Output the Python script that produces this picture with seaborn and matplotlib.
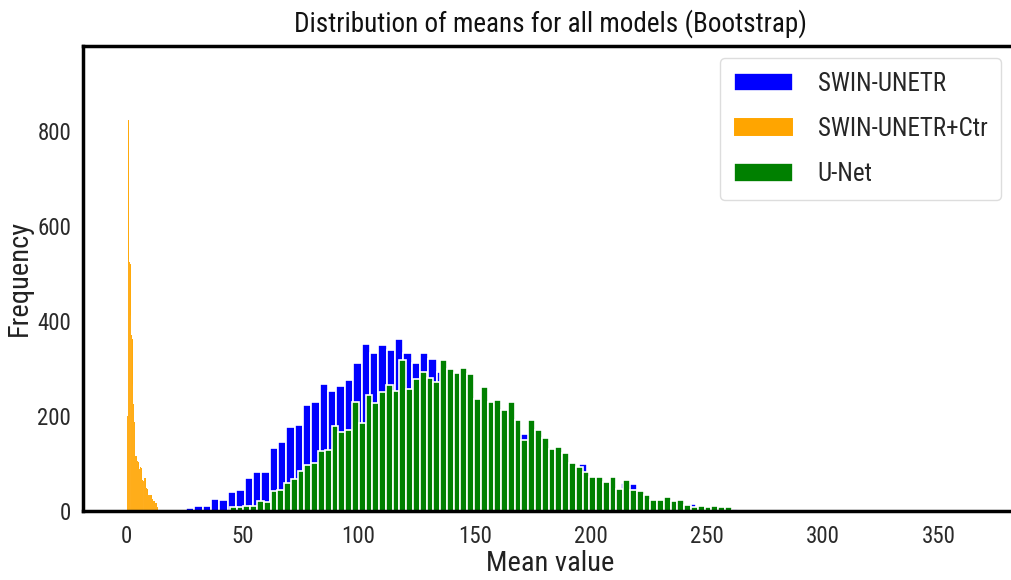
import numpy as np
import matplotlib
matplotlib.use("Agg")
import matplotlib.pyplot as plt
from matplotlib import font_manager
import seaborn as sns

# Bootstrap histogram counts per model (explicit bins)
models = ["SWIN-UNETR", "SWIN-UNETR+Ctr", "U-Net"]
colors = ["blue", "orange", "green"]

swin_start, swin_width = 25.7, 3.6
swin_counts = [6, 11, 11, 26, 23, 39, 44, 69, 82, 82, 133, 146, 176, 181, 222, 230,
               268, 253, 262, 275, 311, 352, 333, 349, 339, 361, 333, 311, 333, 319, 293,
               280, 270, 265, 225, 225, 215, 200, 200, 180,
               163, 160, 125, 125, 118, 100, 90, 98, 70, 60,
               58, 45, 58, 56, 33, 22, 21, 19, 18, 12,
               15, 8, 7, 6, 5, 5]

ctr_start, ctr_width = 0.4, 0.14
ctr_counts = [199, 205, 210, 823, 530, 528, 525, 522, 526, 520,
              412, 410, 405, 370, 367, 365, 362, 268, 262, 225,
              222, 220, 188, 185, 182, 116, 114, 112, 115, 113,
              108, 106, 107, 105, 104, 91, 90, 89, 92, 88,
              93, 92, 90, 91, 89, 66, 65, 64, 66, 63,
              65, 64, 70, 69, 68, 67, 69, 68, 49, 48,
              47, 48, 46, 35, 34, 33, 35, 34, 33, 34,
              35, 33, 34, 32, 33, 28, 27, 26, 27, 26,
              21, 20, 19, 20, 19, 17, 16, 16, 15, 16,
              15, 14, 10, 9, 8, 3, 2, 1, 1, 0]

unet_start, unet_width = 44.6, 2.92
unet_counts = [9, 8, 11, 11, 22, 19, 42, 44, 58, 68,
               85, 96, 102, 126, 129, 178, 166, 170, 230, 185,
               244, 228, 251, 266, 252, 318, 256, 277, 293, 279,
               272, 318, 298, 291, 300, 288, 235, 260, 229, 234,
               212, 229, 191, 150, 191, 171, 153, 131, 135, 123,
               102, 92, 82, 72, 72, 62, 72, 47, 65, 44,
               41, 34, 23, 23, 29, 21, 23, 13, 9, 11,
               8, 11, 8, 8, 2]

x_ticks = [0, 50, 100, 150, 200, 250, 300, 350]
y_ticks = [0, 200, 400, 600, 800]

sns.set_theme(style="white")


def pick_narrow_font():
    """Return (family, stretch) of an installed condensed sans face, if any."""
    preferred = ["Roboto Condensed", "Liberation Sans Narrow", "Open Sans Condensed",
                 "Noto Sans Condensed", "DejaVu Sans Condensed"]
    entries = font_manager.fontManager.ttflist
    names = {f.name for f in entries}
    for fam in preferred:
        if fam in names:
            return fam, "normal"
    for f in entries:
        st = str(f.stretch)
        if st in ("condensed", "semi-condensed", "extra-condensed") and f.style == "normal":
            return f.name, st
    return "DejaVu Sans", "normal"


narrow_family, narrow_stretch = pick_narrow_font()
plt.rcParams["font.family"] = [narrow_family, "DejaVu Sans"]
plt.rcParams["font.stretch"] = narrow_stretch

fig = plt.figure(figsize=(10.11, 5.8), dpi=100)
ax = fig.add_axes([0.082, 0.119, 0.925, 0.802])

series = [
    (swin_start, swin_width, swin_counts, 1.2),
    (ctr_start, ctr_width, ctr_counts, None),
    (unet_start, unet_width, unet_counts, 1.2),
]
for name, color, (start, width, counts, lw) in zip(models, colors, series):
    counts = np.asarray(counts, dtype=float)
    n = len(counts)
    lo, hi = start, start + width * n
    centers = lo + width * (np.arange(n) + 0.5)
    kws = {} if lw is None else {"linewidth": lw}
    sns.histplot(x=centers, weights=counts, bins=n, binrange=(lo, hi),
                 color=color, alpha=1, label=name, ax=ax, **kws)

ax.set_xlim(-18.7, 384)
ax.set_ylim(0, 979)
ax.set_xticks(x_ticks)
ax.set_yticks(y_ticks)
ax.tick_params(labelsize=16.5, colors="#2a2a2a")
ax.tick_params(axis="x", pad=4)
ax.tick_params(axis="y", pad=2.5)
ax.set_title("Distribution of means for all models (Bootstrap)", fontsize=19.5,
             pad=10, color="#111111")
ax.set_xlabel("Mean value", fontsize=20.5, color="#222222")
ax.set_ylabel("Frequency", fontsize=20.5, color="#222222")
ax.xaxis.set_label_coords(0.5, -0.084)
ax.yaxis.set_label_coords(-0.054, 0.5)

for side in ["left", "top", "bottom", "right"]:
    ax.spines[side].set_color("black")
    ax.spines[side].set_linewidth(2.5)

ax.legend(loc="upper right", fontsize=18, handlelength=2.35, handleheight=0.75,
          handletextpad=1.0, labelspacing=0.85, borderpad=0.55, borderaxespad=0,
          frameon=True, framealpha=1, edgecolor="#dddddd",
          bbox_to_anchor=(0.982, 0.974))

fig.savefig("out.png", dpi=100)
